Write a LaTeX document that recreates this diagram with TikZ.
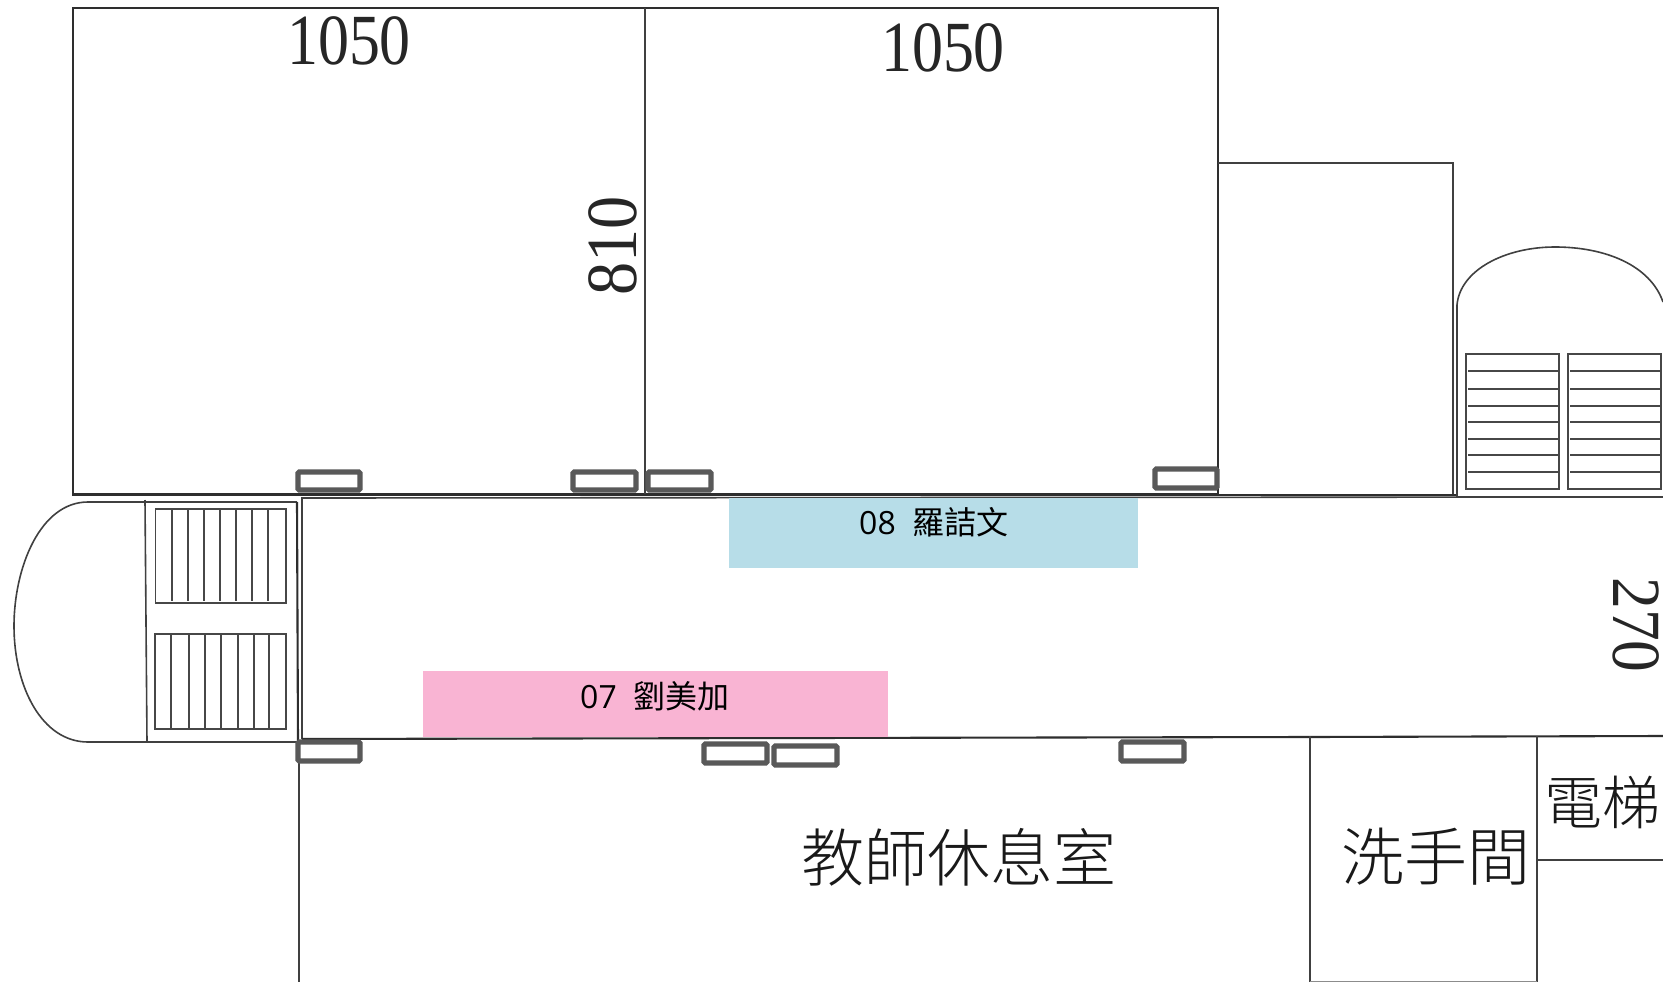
\documentclass[tikz,border=0pt]{standalone}
\usepackage{fontspec}
\usepackage{graphicx}
\setmainfont{Liberation Serif}
\newfontfamily\cjksans{Noto Sans CJK TC}
\newfontfamily\cjkthin[UprightFont={* Light}]{Noto Sans CJK TC}
\newfontfamily\numsans{Open Sans}
\definecolor{barblue}{RGB}{183,221,232}
\definecolor{barpink}{RGB}{249,180,211}
\tikzset{
  wall/.style={draw=black!82,line width=2.1pt},
  thinwall/.style={draw=black!75,line width=1.6pt},
  stairline/.style={draw=black!72,line width=1.5pt},
  seat/.style={draw=black!65,line width=5.4pt,rounded corners=1.5pt},
  bignum/.style={inner sep=0pt,font=\fontsize{72}{72}\selectfont,text=black!85},
  hall/.style={inner sep=0pt,font=\cjkthin\fontsize{63}{63}\selectfont,text=black!90},
  namelabel/.style={inner sep=0pt,font=\fontsize{32}{32}\selectfont,text=black},
}
\newcommand{\narrownum}[1]{\scalebox{0.86}[1]{#1}}
\newcommand{\widenum}[1]{\scalebox{0.92}[1]{#1}}
\newcommand{\nametag}[2]{{\numsans #1}\hspace{17pt}{\cjksans #2}}
\begin{document}
\begin{tikzpicture}[x=1pt,y=-1pt]
\useasboundingbox (0,0) rectangle (1663,982);
\fill[white] (0,0) rectangle (1663,982);
% upper rooms
\draw[wall] (73,8) rectangle (1218,494.5);
\draw[thinwall] (645,8) -- (645,494);
\draw[thinwall] (1218,163) -- (1453,163) -- (1453,495);
\draw[wall] (1218,495) -- (1457,495);
% right stair arch
\draw[thinwall] (1663,497) -- (1457,497) -- (1457,305)
  .. controls (1460,270) and (1505,247) .. (1555,247)
  .. controls (1605,247) and (1650,265) .. (1663,302);
\draw[stairline] (1466,354) rectangle (1559,489);
\draw[stairline] (1568,354) rectangle (1661,489);
\foreach \y in {371,389,406,422,439,455,472} {
  \draw[stairline] (1468,\y) -- (1558,\y);
  \draw[stairline] (1570,\y) -- (1660,\y);
}
% left stair
\draw[thinwall] (297,502) -- (88,502)
  .. controls (40,502) and (14,568) .. (14,626)
  .. controls (14,687) and (42,742) .. (88,742) -- (298,742);
\draw[thinwall] (145,500) -- (147,742);
\draw[wall] (297,502) -- (298,742);
\draw[stairline] (155.5,509) rectangle (286,603);
\draw[stairline] (155,634) rectangle (286,729);
\foreach \x in {172,188,204,220,236,252,268} \draw[stairline] (\x,509) -- (\x,601);
\foreach \x in {171,189,205,221,238,254,269} \draw[stairline] (\x,634) -- (\x,729);
% corridor and lower rooms
\draw[thinwall] (302,739) -- (302,498) -- (1663,497);
\draw[wall] (302,739) -- (1310,737) -- (1663,736);
\draw[thinwall] (299,742) -- (299,982);
\draw[thinwall] (1310,736) -- (1310,982);
\draw[thinwall] (1537,736) -- (1537,982);
\draw[thinwall] (1537,860) -- (1663,860);
\draw[draw=black!45,line width=1pt] (1310,981) -- (1537,981);
% coloured name bars
\fill[barblue] (729,497.5) rectangle (1138,567.5);
\fill[barpink] (423,671) rectangle (888,737);
\node[namelabel] (n08) at (934,522) {\nametag{08}{羅詰文}};
\node[namelabel] (n07) at (655,696) {\nametag{07}{劉美加}};
% seats
\draw[seat] (298,472) rectangle (360,490);
\draw[seat] (573,472) rectangle (636,490);
\draw[seat] (648,472) rectangle (711,490);
\draw[seat] (1155,469) rectangle (1217,488);
\draw[seat] (298,742) rectangle (360,761);
\draw[seat] (704,744) rectangle (767,763);
\draw[seat] (774,746) rectangle (837,765);
\draw[seat] (1121,742) rectangle (1184,761);
% big labels
\node[bignum] (a) at (349,41) {\narrownum{1050}};
\node[bignum] (b) at (943,48) {\narrownum{1050}};
\node[bignum,rotate=90] (c) at (613,246) {\widenum{810}};
\node[bignum,rotate=-90,font=\fontsize{69}{69}\selectfont] (d) at (1636,625) {\widenum{270}};
\node[hall] (e) at (959,857) {教師休息室};
\node[hall] (f) at (1436,857) {洗手間};
\node[hall,font=\cjkthin\fontsize{58}{58}\selectfont] (g) at (1602,802) {電梯};
\end{tikzpicture}
\end{document}
